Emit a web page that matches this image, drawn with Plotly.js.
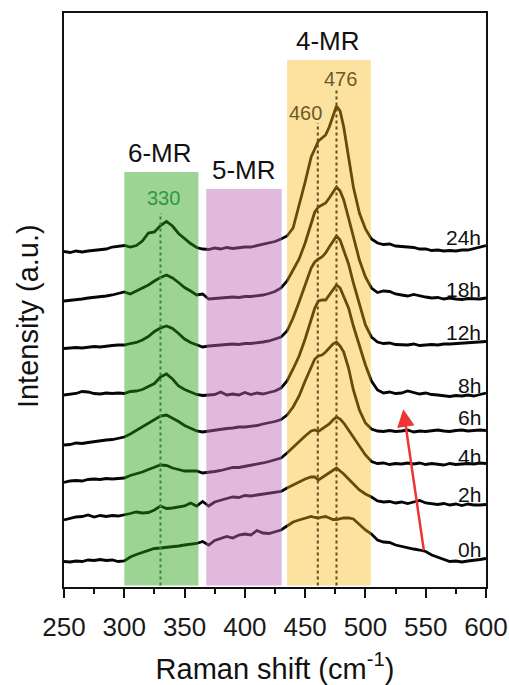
<!DOCTYPE html>
<html>
<head>
<meta charset="utf-8">
<script src="https://cdn.plot.ly/plotly-3.0.1.min.js"></script>
<style>html,body{margin:0;padding:0;background:#fff;}#chart{width:509px;height:685px;}</style>
</head>
<body>
<div id="chart"></div>
<script>
// Raman shift grid (cm^-1)
const shift = [250,255,260,265,270,275,280,285,290,295,
  300,305,310,315,320,325,330,335,340,345,
  350,355,360,365,370,375,380,385,390,395,
  400,405,410,415,420,425,430,435,440,445,
  450,455,458,461,464,467,470,473,476,479,
  482,486,490,495,500,505,510,515,520,525,
  530,535,540,545,550,555,560,565,570,575,
  580,585,590,595,600];

// Stacked intensities (a.u., offset)
const h24 = [335.5,334.5,336,335,336,336.5,337,338,340,340.5,
  341.5,340,341.5,346,354,355,361.5,365.5,361,353.5,
  348,343.5,339.5,338,337.5,339,338,339.5,338.5,339.5,
  340,340,341.5,342.5,344,345.5,348,351,359,381,
  405,430,439,446,449,452,460,470,481,476,
  460,430,400,374,358,348,344,342.5,343,341,
  340.5,339.5,339.5,338,338,336.5,337,336,336.5,336,
  337,337,338.5,339.5,341.5];
const h18 = [286,286.5,287.5,288,289,289.5,290,291,292,293.5,
  295,293,296,298.5,302,306,309.5,312,309,304.5,
  299.5,296,292,293,288,288.5,289,289.5,290,289.5,
  290.5,290.5,291,292,293.5,295.5,299,306,317,328,
  344,365,375,380,382,384,389,395,400,396,
  387,369,349,327,310,299,294.5,296,295.5,293,
  292,291,292.5,291,290,289,289.5,288,289,288,
  287.5,288.5,288,288,289];
const h12 = [238.5,239,239.5,239,240,240.5,240,241,241.5,242,
  242,243.5,244.5,247,250.5,255.5,259,261,258.5,253.5,
  248,244.5,242,240,241,241.5,242,242,243,242.5,
  243.5,243.5,244,245,246,248,250,256,269,285,
  301,319,325,328,330,334,340,346,351,347,
  337,323,304,282,262,250,245,243.5,244,242.5,
  242,242,243,241.5,242,242.5,242,243,243,243.5,
  244,244,244.5,245,245.5];
const h8 = [192,193,193.5,195.5,195,193.5,193,194,193.5,194,
  193.5,195.5,196,197.5,200.5,203.5,210,213,208,201,
  197.5,195,192.5,191.5,192,192.5,195,192,193,192,
  194.5,192.5,194,193,194.5,196,199,206,218,231,
  248,267,279,286,287,287,292,297,302,299,
  291,279,261,241,222,206,197,194,195,193.5,
  194,196,194.5,193,194,192.5,192,191,190.5,191.5,
  191,192,191,192.5,194];
const h6 = [142,142.5,144,143.5,144.5,145.5,146,147,147.5,148.5,
  150,153,156.5,160,164,167.5,171,172,169,165.5,
  161.5,158.5,156,155,156,157,157.5,158.5,159,160,
  160,160.5,161.5,163,164,165.5,167.5,172,180,191,
  206,221,228,231,232,235,239,243,245,241,
  235,219,197,177,164,158,156,155.5,156.5,155.5,
  156,157,155,156,155.5,156.5,157,156,155.5,156.5,
  157,156,156.5,157,156.5];
const h4 = [104.5,106,106.5,106,107.5,108,107.5,108.5,108,108.5,
  109,111.5,113,115,117.5,120,122,121.5,119,117.5,
  116,116,116,114,114.5,115.5,116.5,118,119.5,119.5,
  120.5,121.5,122.5,124,125.5,127,129,134,140,146,
  151,156,157,155.5,158,160,163,167,170,168,
  164,157,150,141,132,125.5,123.5,124,122.5,123.5,
  123,124,123,124,122.5,123.5,123,122,123.5,122.5,
  123,123.5,123,124,123.5];
const h2 = [67,68.5,70,70.5,72,70,71.5,70.5,71.5,71,
  72,73.5,75,74,74.5,77,81,78.5,79,80,
  81,84,81,85.5,81,85,87,88.5,90,89.5,
  91.5,91,92,93,93.5,94.5,95.5,99,102,105,
  108,110,110,107,109.5,112,114.5,117,119,116,
  113,108,103,97,93,90,86,85,85.5,84,
  85,83.5,85,86.5,84,83.5,82.5,83.5,82,83,
  81.5,83,82,82,82.5];
const h0 = [25.5,25,26,25.5,27,26.5,27.5,26.5,27,25.5,
  26,30,32.5,34.5,36,38.5,39,39.5,40.5,41,
  42,43,43.5,45.5,42,46.5,48.5,50.5,49,52,
  53,52,56.5,54,53.5,55.5,57,61,65,67,
  68.5,70.5,69.5,69,70,70.5,69,67.5,67.5,68.5,
  69,69,68,62.5,57,53,47,45,44.5,42,
  40.5,39.5,38,37,35.5,32,30,27.5,25.5,26,
  25,26,26.5,27.5,28.5];

const curveNames = ['0h','2h','4h','6h','8h','12h','18h','24h'];
const curves = [h0,h2,h4,h6,h8,h12,h18,h24];

// Ring bands (cm^-1) and peak positions
const bandNames = ['6-MR','5-MR','4-MR'];
const bandStart = [300,368,435];
const bandEnd = [361.5,430.5,504.5];
const bandTop = [415,398,527];
const peakPos = [330,460.5,476];
const peakLabels = ['330','460','476'];
const peakTop = [374,464,496.5];
// Trend arrow (0h -> 8h), data coordinates
const arrowFrom = [548.6,35.3];
const arrowTo = [531.4,177.7];

const traces = curves.map((y,i)=>({
  x: shift, y: y, type:'scatter', mode:'lines', name: curveNames[i],
  line:{color:'#050505', width:2.8, shape:'linear'}, hoverinfo:'skip'
}));

const bandFill = ['rgba(40,158,22,0.45)','rgba(187,100,178,0.45)','rgba(250,182,14,0.40)'];
const shapes = [];
bandStart.forEach((s,i)=>{
  shapes.push({type:'rect', xref:'x', yref:'y', x0:s, x1:bandEnd[i], y0:1.5, y1:bandTop[i],
    fillcolor:bandFill[i], line:{width:0}, layer:'above'});
});
const peakColors = ['#2f8a3a','#5e4e20','#5e4e20'];
peakPos.forEach((p,i)=>{
  shapes.push({type:'line', xref:'x', yref:'y', x0:p, x1:p, y0:1.5, y1:peakTop[i],
    line:{color:peakColors[i], width:2, dash:'dot'}, layer:'above'});
});

const FONT = 'Liberation Sans, Arial, Helvetica, sans-serif';
const annotations = [];
const bandLabelPos = [[329.6,434],[399.3,417],[469,546]];
bandNames.forEach((n,i)=>{
  annotations.push({xref:'x', yref:'y', x:bandLabelPos[i][0], y:bandLabelPos[i][1], text:n,
    showarrow:false, xanchor:'center', yanchor:'middle', font:{family:FONT, size:26, color:'#111'}});
});
const peakLabelPos = [[332.7,388.7],[450.7,474],[479.7,508.3]];
const peakTextColors = ['#2e9a3e','#6b5a28','#6b5a28'];
peakLabels.forEach((t,i)=>{
  annotations.push({xref:'x', yref:'y', x:peakLabelPos[i][0], y:peakLabelPos[i][1], text:t,
    showarrow:false, xanchor:'center', yanchor:'middle', font:{family:FONT, size:20, color:peakTextColors[i]}});
});
const hourLabelY = [38,93,131,169.5,202,254.5,298,349.5];
curveNames.forEach((n,i)=>{
  annotations.push({xref:'x', yref:'y', x:597.5, y:hourLabelY[i], text:n,
    showarrow:false, xanchor:'right', yanchor:'middle', font:{family:FONT, size:21, color:'#111'}});
});
annotations.push({xref:'x', yref:'y', axref:'x', ayref:'y', x:arrowTo[0], y:arrowTo[1],
  ax:arrowFrom[0], ay:arrowFrom[1], text:'', showarrow:true, arrowhead:2, arrowsize:1.4,
  arrowwidth:2.5, arrowcolor:'#ee3434', standoff:0, startstandoff:0});
annotations.push({xref:'paper', yref:'paper', x:-0.0853, y:0.472, text:'Intensity (a.u.)',
  textangle:-90, showarrow:false, xanchor:'center', yanchor:'middle',
  font:{family:FONT, size:29, color:'#111'}});

const layout = {
  width:509, height:685,
  margin:{l:64, r:23, t:13, b:98, pad:0},
  paper_bgcolor:'#ffffff', plot_bgcolor:'#ffffff',
  showlegend:false,
  font:{family:FONT, color:'#111'},
  xaxis:{
    range:[250,600], showgrid:false, zeroline:false,
    showline:true, linecolor:'#111', linewidth:2, mirror:true,
    ticks:'outside', tickmode:'array', tickvals:[250,300,350,400,450,500,550,600],
    ticklen:9, tickwidth:2, tickcolor:'#111', ticklabelstandoff:7,
    tickfont:{family:FONT, size:26, color:'#1a1a1a'},
    minor:{tickmode:'array', tickvals:[275,325,375,425,475,525,575], ticks:'outside', ticklen:5, tickwidth:2, tickcolor:'#111'},
    title:{text:'Raman shift (cm<sup>-1</sup>)', font:{family:FONT, size:29, color:'#111'}, standoff:17},
    automargin:false
  },
  yaxis:{
    range:[0,574], showgrid:false, zeroline:false,
    showline:true, linecolor:'#111', linewidth:2, mirror:true,
    ticks:'', showticklabels:false, automargin:false
  },
  shapes: shapes,
  annotations: annotations
};

Plotly.newPlot('chart', traces, layout, {displayModeBar:false, staticPlot:true});
</script>
</body>
</html>
